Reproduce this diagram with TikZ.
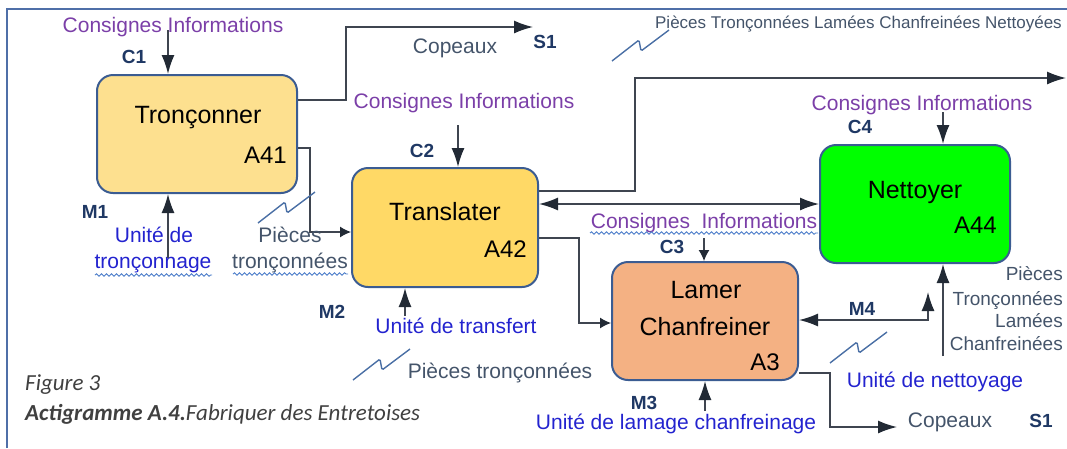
\documentclass[tikz,border=0pt]{standalone}
\usepackage{fontspec}
\setmainfont{Liberation Sans}
\newfontfamily\capfont{Carlito}
\usetikzlibrary{arrows.meta,decorations.pathmorphing}
\definecolor{purp}{HTML}{7B3FA8}
\definecolor{ublue}{HTML}{2323CF}
\definecolor{navy}{HTML}{1F3864}
\definecolor{slate}{HTML}{44546A}
\definecolor{boxc}{HTML}{3B5C92}
\definecolor{linec}{HTML}{3F4550}
\definecolor{tipc}{HTML}{222A35}
\definecolor{wavyc}{HTML}{4A7CC9}
\definecolor{zzc}{HTML}{4A6FA5}
\definecolor{framec}{HTML}{4F6FA8}
\definecolor{capc}{HTML}{404040}
\definecolor{yA}{HTML}{FDE08F}
\definecolor{yB}{HTML}{FFD966}
\definecolor{salm}{HTML}{F4B183}
\definecolor{grn}{HTML}{00FF00}
\tikzset{
  box/.style={draw=boxc, line width=2pt, rounded corners=16pt, inner sep=0pt},
  t/.style={inner sep=0pt, anchor=base},
  lab/.style={t, font=\fontsize{21}{25}\selectfont},
  cons/.style={lab, text=purp},
  unit/.style={lab, text=ublue},
  outl/.style={lab, text=slate},
  code/.style={t, font=\fontsize{19}{21}\selectfont\bfseries, text=navy},
  bname/.style={t, font=\fontsize{25}{28}\selectfont},
  bid/.style={t, anchor=base east, font=\fontsize{24}{28}\selectfont},
  con/.style={draw=linec, line width=1.5pt},
  arr/.style={con, -{Latex[length=19pt,width=13pt,color=tipc]}},
  arrs/.style={con, line width=1.2pt, -{Latex[length=11pt,width=11pt,color=tipc]}},
  arr2/.style={con, {Latex[length=19pt,width=13pt,color=tipc]}-{Latex[length=19pt,width=13pt,color=tipc]}},
  wavy/.style={draw=wavyc, line width=0.9pt, decorate, decoration={snake, amplitude=1.2pt, segment length=5pt}},
  zz/.pic={\draw[draw=zzc, line width=1.4pt, rounded corners=1.5pt] (0,0) -- (27,-21) -- (29,-10) -- (57,-31);}
}
\begin{document}
\begin{tikzpicture}[x=1pt,y=-1pt]
\useasboundingbox (0,0) rectangle (1067,448);
% frame
\draw[draw=framec, line width=2.5pt] (7,448) -- (7,9) -- (1067,9);

% boxes
\node[box, fill=yA, minimum width=200pt, minimum height=118pt] (A41) at (197,134) {};
\node[box, fill=yB, minimum width=186pt, minimum height=119pt] (A42) at (445,227.5) {};
\node[box, fill=salm, minimum width=186pt, minimum height=118pt] (A3) at (705,321) {};
\node[box, fill=grn, minimum width=190pt, minimum height=118pt] (A44) at (915,204) {};

\node[bname] (n41) at (198,123) {Tronçonner};
\node[bid] (i41) at (287,163) {A41};
\node[bname] (n42) at (445,220) {Translater};
\node[bid] (i42) at (527,257) {A42};
\node[bname] (n3a) at (706,298) {Lamer};
\node[bname] (n3b) at (705,335) {Chanfreiner};
\node[bid] (i3) at (780,370) {A3};
\node[bname] (n44) at (915,198) {Nettoyer};
\node[bid] (i44) at (997,233) {A44};

% A41 control / mechanism
\node[cons] (ci1) at (173,32) {Consignes Informations};
\node[code] (c1) at (134,63) {C1};
\coordinate (c1s) at (168,30);
\draw[arr] (c1s) -- (c1s |- A41.north);
\node[code] (m1) at (95,218) {M1};
\node[unit] (u1a) at (154,242) {Unité de};
\node[unit] (u1b) at (153,268) {tronçonnage};
\draw[wavy] (95,275) -- (212,275);
\coordinate (m1s) at (168,258);
\draw[arr] (m1s) -- (m1s |- A41.south);

% A41 outputs
\coordinate (s1a) at (533,27);
\draw[arr] (A41.east |- 0,100) -- (346,100) |- (s1a);
\node[outl] (cop1) at (455,53) {Copeaux};
\node[code] (s1t) at (545,48) {S1};
\draw[arrs] (A41.east |- 0,148) -- (310,148) |- (A42.west |- 0,232);
\node[outl] (pt1a) at (290,242) {Pièces};
\node[outl] (pt1b) at (290,268) {tronçonnées};
\draw[wavy] (233,274) -- (348,274);
\pic at (258,223) {zz};

% A42 control / mechanism
\node[cons] (ci2) at (464,108) {Consignes Informations};
\node[code] (c2) at (422,157) {C2};
\coordinate (c2s) at (458,125);
\draw[arr] (c2s) -- (c2s |- A42.north);
\node[code] (m2) at (332,318) {M2};
\node[unit] (u2) at (456,333) {Unité de transfert};
\coordinate (m2s) at (405,316);
\draw[arr] (m2s) -- (m2s |- A42.south);
\pic at (353,380) {zz};
\node[outl] (pt2) at (500,378) {Pièces tronçonnées};

% A42 outputs
\coordinate (outR) at (1066,78);
\draw[arr] (A42.east |- 0,191) -- (635,191) |- (outR);
\draw[arr2] (A42.east |- 0,204) -- (A44.west |- 0,204);
\draw[arrs] (A42.east |- 0,238) -- (579,238) |- (A3.west |- 0,323);
\pic at (612,61) {zz};
\node[outl, font=\fontsize{17}{20}\selectfont, anchor=base east] (ptop) at (1062,28) {Pièces Tronçonnées Lamées Chanfreinées Nettoyées};

% A3
\node[cons] (ci3) at (704,228) {Consignes\hspace{0.55em}Informations};
\draw[wavy] (590,233) -- (818,233);
\node[code] (c3) at (672,253) {C3};
\coordinate (c3s) at (704,238);
\draw[arrs] (c3s) -- (c3s |- A3.north);
\node[code] (m3) at (644,409) {M3};
\coordinate (m3s) at (705,411);
\draw[arr] (m3s) -- (m3s |- A3.south);
\node[unit] (u3) at (676,429) {Unité de lamage chanfreinage};
\coordinate (cop2a) at (897,427);
\draw[arr] (A3.east |- 0,373) -- (830,373) |- (cop2a);
\node[outl] (cop2) at (950,427) {Copeaux};
\node[code] (s1b) at (1041,427) {S1};

% M4
\coordinate (m4t) at (928,292);
\draw[arr2] (A3.east |- 0,320) -- (928,320) -- (m4t);
\node[code] (m4) at (862,315) {M4};
\pic at (830,363) {zz};

% A44
\node[cons] (ci4) at (922,110) {Consignes Informations};
\node[code] (c4) at (860,133) {C4};
\coordinate (c4s) at (943,112);
\draw[arr] (c4s) -- (c4s |- A44.north);
\coordinate (p4s) at (943,356);
\draw[arr] (p4s) -- (p4s |- A44.south);
\node[outl, font=\fontsize{19}{22}\selectfont, anchor=base east] (pr1) at (1063,280) {Pièces};
\node[outl, font=\fontsize{19}{22}\selectfont, anchor=base east] (pr2) at (1063,305) {Tronçonnées};
\node[outl, font=\fontsize{19}{22}\selectfont, anchor=base east] (pr3) at (1063,327) {Lamées};
\node[outl, font=\fontsize{19}{22}\selectfont, anchor=base east] (pr4) at (1063,350) {Chanfreinées};
\node[unit] (u4) at (935,387) {Unité de nettoyage};

% caption
\node[t, anchor=base west, text=capc, font=\capfont\fontsize{23}{26}\selectfont\itshape] (fig) at (25,390) {Figure 3};
\node[t, anchor=base west, text=capc, font=\capfont\fontsize{23}{26}\selectfont\itshape] (act) at (25,420) {\bfseries Actigramme A.4.\mdseries Fabriquer des Entretoises};
\end{tikzpicture}
\end{document}
